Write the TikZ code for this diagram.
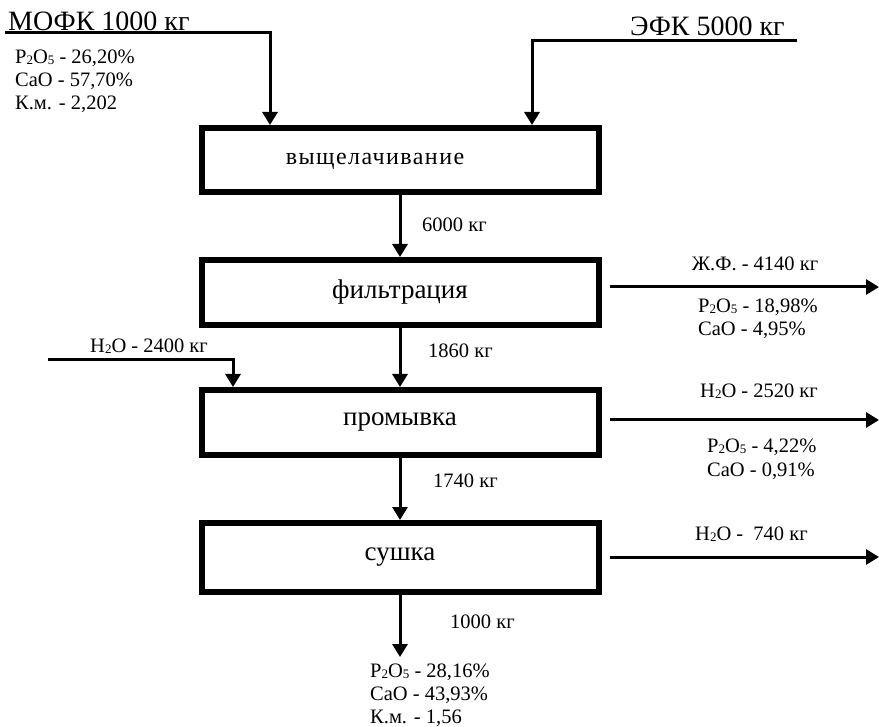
\documentclass[tikz,border=0pt]{standalone}
\usepackage{fontspec}
\setmainfont{Liberation Serif}
\usetikzlibrary{arrows.meta}
\newcommand{\chsub}[1]{\raisebox{-1pt}{\fontsize{13}{13}\selectfont #1}}
\begin{document}
\begin{tikzpicture}[x=1pt,y=-1pt,
  proc/.style={draw, line width=6pt, minimum width=397pt, inner sep=0pt,
    font=\fontsize{27}{27}\selectfont},
  boxtext/.style={inner sep=0pt, font=\fontsize{24}{24}\selectfont\addfontfeature{LetterSpace=6}},
  flow/.style={line width=3pt, -{Triangle[width=15pt,length=13pt]}},
  lab/.style={font=\fontsize{20.5}{20.5}\selectfont, inner sep=0pt, anchor=base west},
  labc/.style={font=\fontsize{20.5}{20.5}\selectfont, inner sep=0pt, anchor=base},
  big/.style={font=\fontsize{28}{28}\selectfont, inner sep=0pt, anchor=base west}]
\useasboundingbox (0,0) rectangle (879,727);

% process boxes
\node[proc, minimum height=64pt] (b1) at (400,160) {};
\node[boxtext] (t1) at (375,161) {выщелачивание};
\node[proc, minimum height=65pt] (b2) at (400,292.5) {фильтрация};
\node[proc, minimum height=65pt] (b3) at (400,422.5) {промывка};
\node[proc, minimum height=69pt] (b4) at (400,557.5) {сушка};

% inputs
\coordinate (m0) at (5,33);
\coordinate (mx) at (270,0);
\coordinate (e0) at (797,41);
\coordinate (ex) at (532,0);
\coordinate (w0) at (48,360);
\coordinate (wx) at (233,0);
\draw[flow] (m0) -| (b1.north -| mx);
\draw[flow] (e0) -| (b1.north -| ex);
\draw[flow] (w0) -| (b3.north -| wx);

\node[big] (mofk) at (8,31) {МОФК 1000 кг};
\node[big] (efk) at (630,36) {ЭФК 5000 кг};
\node[lab] (m1) at (15,64) {P\chsub{2}O\chsub{5} - 26,20\%};
\node[lab] (m2) at (15,87) {CaO - 57,70\%};
\node[lab] (m3) at (15,110) {К.м. - 2,202};
\node[lab] (w1) at (90,353) {H\chsub{2}O - 2400 кг};

% main flow
\draw[flow] (b1) -- (b2);
\draw[flow] (b2) -- (b3);
\draw[flow] (b3) -- (b4);
\coordinate (fin) at (400,657);
\draw[flow] (b4) -- (fin);

\node[lab] (q1) at (422,232) {6000 кг};
\node[lab] (q2) at (428,358) {1860 кг};
\node[lab] (q3) at (433,487) {1740 кг};
\node[lab] (q4) at (450,628) {1000 кг};

\node[lab] (f1) at (370,677) {P\chsub{2}O\chsub{5} - 28,16\%};
\node[lab] (f2) at (370,700) {CaO - 43,93\%};
\node[lab] (f3) at (370,723) {К.м. - 1,56};

% outputs
\coordinate (o2) at (879,287);
\coordinate (o3) at (879,420);
\coordinate (o4) at (879,557);
\draw[flow] ([xshift=8pt]b2.east |- o2) -- (o2);
\draw[flow] ([xshift=8pt]b3.east |- o3) -- (o3);
\draw[flow] ([xshift=8pt]b4.east |- o4) -- (o4);

\node[labc] (r1) at (755,271) {Ж.Ф. - 4140 кг};
\node[lab] (r2) at (698,313) {P\chsub{2}O\chsub{5} - 18,98\%};
\node[lab] (r3) at (698,336) {CaO - 4,95\%};
\node[lab] (s1) at (700,398) {H\chsub{2}O - 2520 кг};
\node[lab] (s2) at (707,453) {P\chsub{2}O\chsub{5} - 4,22\%};
\node[lab] (s3) at (707,476) {CaO - 0,91\%};
\node[lab] (u1) at (695,540) {H\chsub{2}O - \ 740 кг};
\end{tikzpicture}
\end{document}
